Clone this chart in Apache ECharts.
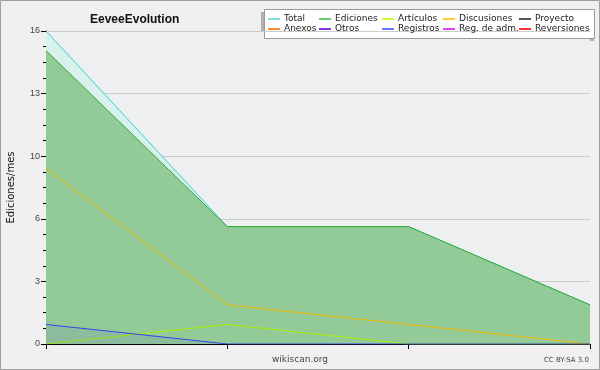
<!DOCTYPE html>
<html><head><meta charset="utf-8">
<script src="https://cdn.jsdelivr.net/npm/echarts@6/dist/echarts.min.js"></script>
<style>html,body{margin:0;padding:0;background:#f0f0f0}#c{width:600px;height:370px}</style>
</head><body><div id="c"></div>
<script>
const categories = ['P1', 'P2', 'P3', 'P4'];
const total = [16, 6, 6, 2];
const ediciones = [15, 6, 6, 2];
const articulos = [0, 1, 0, 0];
const discusiones = [9, 2, 1, 0];
const registros = [1, 0, 0, 0];
const yTicks = [0, 3.2, 6.4, 9.6, 12.8, 16];

const names = ['Total','Ediciones','Artículos','Discusiones','Proyecto','Anexos','Otros','Registros','Reg. de adm.','Reversiones'];
const colors = ['#7fdfdf','#66cc66','#ccff33','#ffcc33','#555555','#ff8833','#8833dd','#6677ff','#dd44ee','#ff3333'];
const lineColors = {'Total':'#33d0d0','Ediciones':'#33aa33','Artículos':'#aaee00','Discusiones':'#f0b800','Registros':'#3344ee'};
const dataMap = {'Total':total,'Ediciones':ediciones,'Artículos':articulos,'Discusiones':discusiones,'Registros':registros};
const areas = {'Total':'#d9f1ec','Ediciones':'#93cb98','Registros':'rgba(80,90,200,0.12)'};

const series = names.map((n,i)=>({
  name:n, type:'line', data: dataMap[n] || [], symbol:'none', color: colors[i],
  lineStyle:{width:1, color: lineColors[n] || colors[i]},
  areaStyle: areas[n] ? {color: areas[n], opacity:1} : undefined,
  emphasis:{disabled:true}, animation:false, z: 2 + i
}));

const colX = [268, 319, 382, 443, 519];
const legends = colX.map((x,c)=>({
  orient:'vertical', left:x, top:14, itemGap:0, itemWidth:12, itemHeight:2, icon:'rect',
  data:[names[c], names[c+5]],
  textStyle:{fontFamily:'DejaVu Sans', fontSize:9, color:'#222', lineHeight:10, padding:[0,0,0,-1]},
  selectedMode:false, padding:0
}));

const chart = echarts.init(document.getElementById('c'), null, {renderer:'canvas'});
chart.setOption({
  backgroundColor:'#f0f0f0',
  animation:false,
  title:{text:'EeveeEvolution', left:85, top:9, textStyle:{fontFamily:'Liberation Sans', fontWeight:'bold', fontSize:12, color:'#111'}},
  legend: legends,
  grid:{left:46, right:10, top:31, bottom:26, show:true, backgroundColor:'#eeeff1', borderWidth:0, containLabel:false, outerBoundsMode:'none'},
  xAxis:{type:'category', data:categories, boundaryGap:false,
    axisLine:{lineStyle:{color:'#000', width:1}},
    axisTick:{show:true, length:5, lineStyle:{color:'#000'}},
    axisLabel:{show:false}, splitLine:{show:false}},
  yAxis:{type:'value', min:0, max:16, interval:3.2,
    name:'Ediciones/mes', nameLocation:'middle', nameGap:30, nameRotate:90,
    nameTextStyle:{fontFamily:'DejaVu Sans', fontSize:10, color:'#111'},
    axisLine:{show:true, lineStyle:{color:'#000'}},
    axisTick:{show:true, length:5, lineStyle:{color:'#000'}},
    minorTick:{show:true, splitNumber:4, length:3, lineStyle:{color:'#000'}},
    axisLabel:{margin:6, fontFamily:'Liberation Sans', fontSize:9, color:'#444', formatter:v=>String(Math.round(v))},
    splitLine:{show:true, lineStyle:{color:'#cccccc', width:1}}},
  series: series,
  graphic:[
    {type:'rect', shape:{x:261, y:12, width:333, height:29}, style:{fill:'#b0b0b0'}, z:-1},
    {type:'rect', shape:{x:264.5, y:9.5, width:330, height:29}, style:{fill:'#ffffff', stroke:'#9a9a9a', lineWidth:1}, z:0},
    {type:'text', left:'center', top:355, style:{text:'wikiscan.org', font:'9px "DejaVu Sans"', fill:'#444'}},
    {type:'text', right:11, top:357, style:{text:'CC BY-SA 3.0', font:'7px "DejaVu Sans"', fill:'#444'}},
    {type:'rect', shape:{x:0.5, y:0.5, width:599, height:369}, style:{fill:'none', stroke:'#a0a0a0', lineWidth:1}, z:100}
  ]
});
</script></body></html>
